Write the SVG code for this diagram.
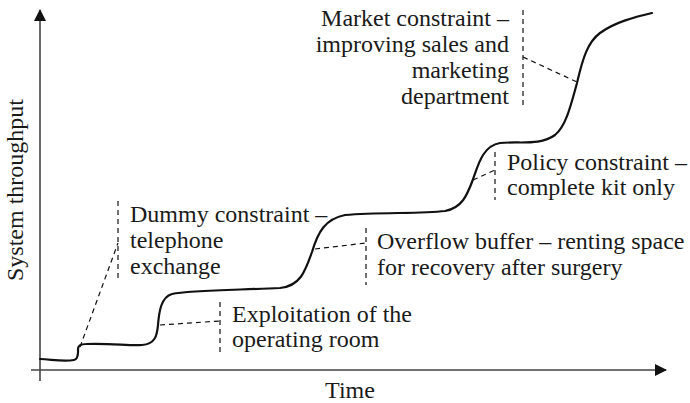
<svg xmlns="http://www.w3.org/2000/svg" width="690" height="403" viewBox="0 0 690 403">
<style>
.t{font-family:"Liberation Serif","Times New Roman",serif;font-size:24px;fill:#1a1a1a}
.ax{stroke:#444;stroke-width:1.6;fill:none}
.ld{stroke:#111;stroke-width:1.2;stroke-dasharray:5 4;fill:none}
.cv{stroke:#111;stroke-width:2.2;fill:none;stroke-linecap:round}
</style>
<defs>
<marker id="ah" viewBox="0 0 12 12" refX="11" refY="6" markerWidth="12" markerHeight="12" markerUnits="userSpaceOnUse" orient="auto">
<path d="M0,0 L12,6 L0,12 Z" fill="#111"/>
</marker>
</defs>
<g id="axes">
<line class="ax" x1="40" y1="381" x2="40" y2="10" marker-end="url(#ah)"/>
<line class="ax" x1="31" y1="370" x2="666" y2="370" marker-end="url(#ah)"/>
<text class="t" x="350" y="398" text-anchor="middle">Time</text>
<text class="t" transform="translate(23,190) rotate(-90)" text-anchor="middle">System throughput</text>
</g>
<g id="curve">
<path class="cv" d="M40,359 C55,360 65,362 74,360 C79,359 78,352 78,349 C78,345 81,344 86,344 C110,343 130,346 142,345 C155,344 157,336 158,325 C159,312 161,297 172,294 C190,290 240,290 280,288 C300,286 305,272 312,252 C318,232 325,219 345,215 C380,212 420,214 445,211 C462,208 467,195 472,182 C478,166 482,146 500,143 C520,141 540,146 555,135 C566,126 571,105 577,83 C583,57 588,42 600,33 C615,22 635,17 652,13"/>
</g>
<g id="connectors">
<path class="ld" d="M80,347 L118,243"/>
<path class="ld" d="M118,201 L118,282"/>
<path class="ld" d="M160,325 L220,321"/>
<path class="ld" d="M220,302 L220,352"/>
<path class="ld" d="M315,249 L366,243"/>
<path class="ld" d="M366,228 L366,285"/>
<path class="ld" d="M473,180 L495,170"/>
<path class="ld" d="M495,152 L495,200"/>
<path class="ld" d="M523,57 L577,82"/>
<path class="ld" d="M523,10 L523,107"/>
</g>
<g id="dummy">
<text class="t" x="130" y="222">Dummy constraint –</text>
<text class="t" x="130" y="248">telephone</text>
<text class="t" x="130" y="274">exchange</text>
</g>
<g id="exploitation">
<text class="t" x="232" y="322">Exploitation of the</text>
<text class="t" x="232" y="347">operating room</text>
</g>
<g id="overflow">
<text class="t" x="377" y="249">Overflow buffer – renting space</text>
<text class="t" x="377" y="275">for recovery after surgery</text>
</g>
<g id="policy">
<text class="t" x="507" y="170">Policy constraint –</text>
<text class="t" x="507" y="195">complete kit only</text>
</g>
<g id="market">
<text class="t" x="509" y="26" text-anchor="end">Market constraint –</text>
<text class="t" x="509" y="52" text-anchor="end">improving sales and</text>
<text class="t" x="509" y="78" text-anchor="end">marketing</text>
<text class="t" x="509" y="104" text-anchor="end">department</text>
</g>
</svg>
